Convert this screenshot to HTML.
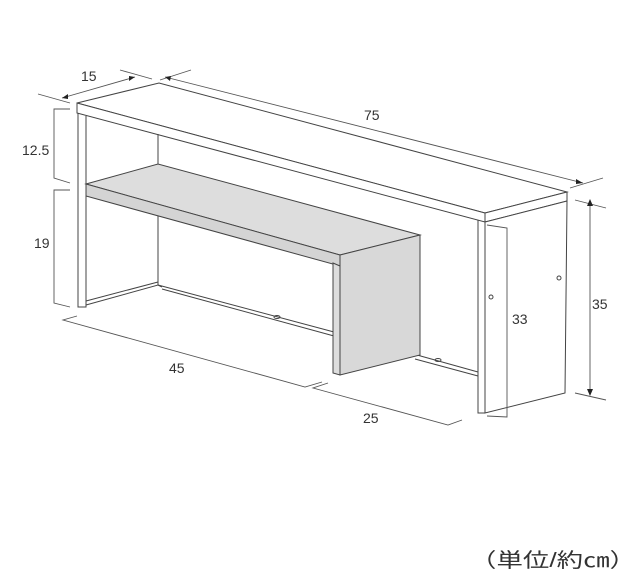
<!DOCTYPE html>
<html><head><meta charset="utf-8"><style>
html,body{margin:0;padding:0;background:#fff;}
svg{display:block;}
text{font-family:"Liberation Sans","Noto Sans CJK JP",sans-serif;fill:#333;}
</style></head><body>
<svg width="640" height="584" viewBox="0 0 640 584" xmlns="http://www.w3.org/2000/svg">
<g fill="none" stroke="#444" stroke-width="1">
<polygon points="77,103 159,83 567,192 485,213" fill="#fff"/>
<polygon points="77,103 485,213 485,222 77,113" fill="#fff"/>
<polygon points="485,213 567,192 567,201 485,222" fill="#fff"/>
<polyline points="78,113 78,307 86,307 86,116"/>
<line x1="158" y1="134" x2="158" y2="285"/>
<polyline points="86,305 158,285 162,287"/>
<polyline points="86,301 158,282"/>
<line x1="158" y1="285" x2="334" y2="332"/>
<line x1="162" y1="289" x2="334" y2="336"/>
<line x1="417" y1="355" x2="478" y2="372"/>
<line x1="415" y1="359" x2="478" y2="376"/>
<ellipse cx="277" cy="317" rx="3" ry="1.5"/>
<ellipse cx="438" cy="360" rx="3" ry="1.5"/>
<polygon points="86,184 158,164 420,235 340,255" fill="#ddd"/>
<polygon points="86,184 340,255 340,266 86,196" fill="#d4d4d4"/>
<polygon points="340,255 420,235 420,355 340,375" fill="#d8d8d8"/>
<polygon points="333,263 340,266 340,375 333,373" fill="#ddd"/>
<polygon points="485,222 567,201 565,393 485,413" fill="#fff"/>
<polyline points="478,220 478,413 485,413"/>
<ellipse cx="491" cy="297" rx="2" ry="2"/>
<ellipse cx="559" cy="278" rx="2" ry="2"/>
</g>
<g fill="none" stroke="#555" stroke-width="0.9">
<line x1="62" y1="98" x2="135" y2="77"/>
<line x1="38" y1="94" x2="70" y2="103"/>
<line x1="120" y1="70" x2="152" y2="79"/>
<line x1="165" y1="77" x2="583" y2="183"/>
<line x1="160" y1="80" x2="191" y2="70"/>
<line x1="570" y1="188" x2="603" y2="178"/>
<polyline points="70,109 54,109 54,178 70,183"/>
<polyline points="70,190 54,190 54,303 70,307"/>
<polyline points="77,316 63,320 305,387 322,382"/>
<polyline points="328,383 313,388 448,425 462,420"/>
<polyline points="487,225 507,228 507,417 487,416"/>
<line x1="575" y1="200" x2="606" y2="208"/>
<line x1="575" y1="393" x2="606" y2="400"/>
<line x1="590" y1="203" x2="590" y2="392"/>
</g>
<g fill="#222">
<polygon points="62,98 68,94 68,99"/>
<polygon points="135,77 129,76 129,81"/>
<polygon points="165,77 171,76 170,81"/>
<polygon points="583,183 576,179 576,184"/>
<polygon points="590,199 587,206 593,206"/>
<polygon points="590,396 587,389 593,389"/>
</g>
<g font-size="14">
<text x="81" y="81">15</text>
<text x="364" y="120">75</text>
<text x="22" y="155">12.5</text>
<text x="34" y="248">19</text>
<text x="169" y="373">45</text>
<text x="363" y="423">25</text>
<text x="512" y="324">33</text>
<text x="592" y="309">35</text>
</g>
<text x="470" y="567" font-size="20" textLength="166" lengthAdjust="spacingAndGlyphs">（単位/約㎝）</text>
</svg>
</body></html>
